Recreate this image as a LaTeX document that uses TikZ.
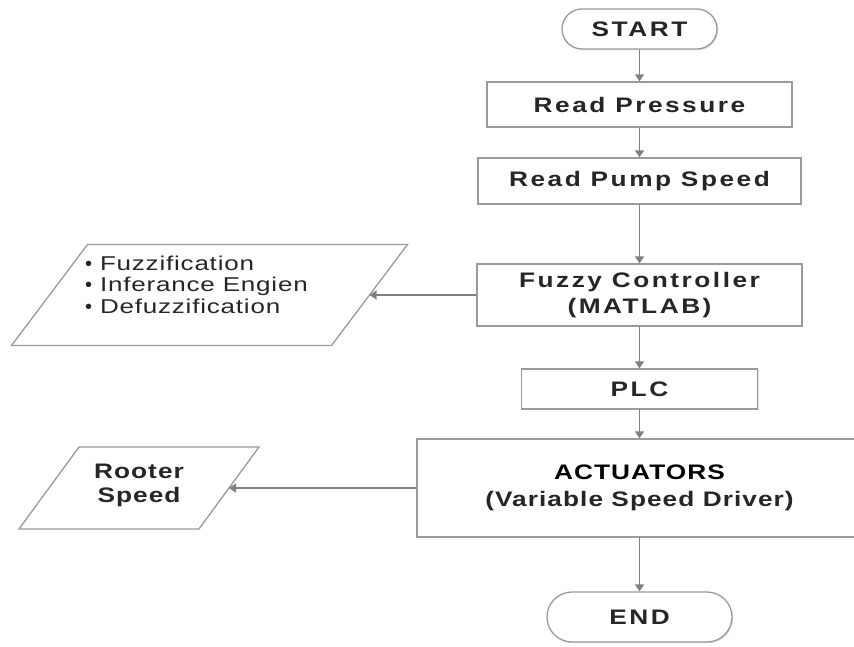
\documentclass[tikz,border=0pt]{standalone}
\usepackage{fontspec}
\setmainfont{Liberation Sans}[FakeStretch=1.3,LetterSpace=4]
\newfontfamily\headf{Liberation Sans}[FakeStretch=1.25,LetterSpace=12]
\newfontfamily\actf{Liberation Sans}[FakeStretch=1.25,LetterSpace=5]
\newfontfamily\plainf{Liberation Sans}
\usetikzlibrary{arrows.meta,calc,shadows}
\definecolor{boxgray}{HTML}{9A9A9A}
\definecolor{linegray}{HTML}{808080}
\definecolor{txt}{HTML}{262626}
\newcommand{\blt}{{\plainf •}\hspace{8pt}}
\begin{document}
\begin{tikzpicture}[x=1pt,y=-1pt,
  box/.style={draw=boxgray,line width=1.3pt,fill=white,inner sep=0pt,align=center,
    font=\headf\bfseries\fontsize{21}{26}\selectfont,text=txt,
    drop shadow={shadow xshift=1.2pt,shadow yshift=-1.2pt,opacity=0.25,fill=gray}},
  term/.style={box},
  inv/.style={inner sep=0pt,outer sep=0pt},
  para/.style={draw=boxgray,line width=1.3pt,fill=white},
  link/.style={draw=linegray,line width=1.4pt,-{Triangle[length=7pt,width=9pt]}}]
\useasboundingbox (0,0) rectangle (854,646);

% flow boxes
\node[term,rounded corners=20pt,minimum width=155,minimum height=40] (start) at (639.5,29) {START};
\node[box,minimum width=305,minimum height=45] (rp) at (639.5,104.5) {Read Pressure};
\node[box,minimum width=323,minimum height=46] (rps) at (639.5,181) {Read Pump Speed};
\node[box,minimum width=325,minimum height=62] (fc) at (639.5,295) {Fuzzy Controller\\(MATLAB)};
\node[box,minimum width=236,minimum height=40] (plc) at (639.5,389) {PLC};
\node[box,minimum width=445,minimum height=98,
  font=\actf\bfseries\fontsize{21}{27}\selectfont] (act) at (639.5,488)
  {{\color{black}ACTUATORS}\\(Variable Speed Driver)};
\node[term,rounded corners=25pt,minimum width=185,minimum height=50] (end) at (639.5,617) {END};

% parallelogram 1
\node[inv,minimum width=320,minimum height=101] (p1) at (209.5,295) {};
\draw[para] ($(p1.north west)+(38,0)$) -- ($(p1.north east)+(38,0)$)
  -- ($(p1.south east)+(-38,0)$) -- ($(p1.south west)+(-38,0)$) -- cycle;
\node[inv,anchor=west,align=left,font=\fontsize{20}{21.5}\selectfont,text=txt] (lst) at (85,284.5)
  {\blt Fuzzification\\\blt Inferance Engien\\\blt Defuzzification};

% parallelogram 2
\node[inv,minimum width=180,minimum height=82] (p2) at (139,488) {};
\draw[para] ($(p2.north west)+(30,0)$) -- ($(p2.north east)+(30,0)$)
  -- ($(p2.south east)+(-30,0)$) -- ($(p2.south west)+(-30,0)$) -- cycle;
\node[inv,align=center,font=\actf\bfseries\fontsize{21}{24}\selectfont,text=txt] (rs) at (139,485) {Rooter\\Speed};

% connectors
\draw[link] (start) -- (rp);
\draw[link] (rp) -- (rps);
\draw[link] (rps) -- (fc);
\draw[link] (fc) -- (plc);
\draw[link] (plc) -- (act);
\draw[link] (act) -- (end);
\draw[link] (fc.west) -- (p1.east);
\draw[link] (act.west) -- (p2.east);
\end{tikzpicture}
\end{document}
